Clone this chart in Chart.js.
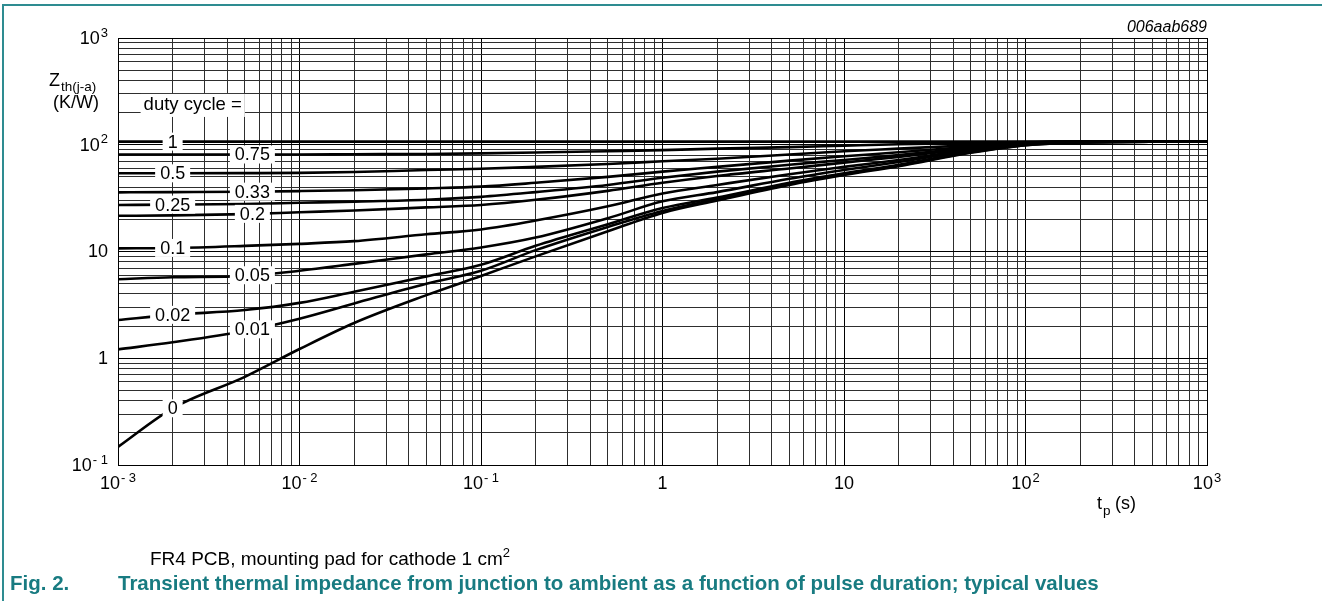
<!DOCTYPE html>
<html>
<head>
<meta charset="utf-8">
<script src="https://cdn.jsdelivr.net/npm/chart.js@4.4.1/dist/chart.umd.min.js"></script>
<style>
  html, body { margin: 0; padding: 0; background: #fff; }
  #wrap { position: relative; width: 1322px; height: 601px; overflow: hidden; }
  #chart { position: absolute; left: 0; top: 0; }
  .rule-top { position: absolute; left: 2px; top: 4px; width: 1320px; height: 2px; background: #2e8c91; }
  .rule-left { position: absolute; left: 2px; top: 4px; width: 2px; height: 597px; background: #2e8c91; }
  .note { position: absolute; left: 150px; top: 548px; font: 19px/22px "Liberation Sans", Arial, sans-serif; color: #000; white-space: nowrap; }
  .note sup { font-size: 13px; line-height: 0; position: relative; top: -1px; }
  .fig { position: absolute; left: 10px; top: 571px; font: bold 20.5px/24px "Liberation Sans", Arial, sans-serif; color: #187b81; white-space: nowrap; }
  .fig span { display: inline-block; width: 108px; }
</style>
</head>
<body>
<div id="wrap">
  <canvas id="chart" width="1322" height="601"></canvas>
  <div class="rule-top"></div>
  <div class="rule-left"></div>
  <div class="note">FR4 PCB, mounting pad for cathode 1 cm<sup>2</sup></div>
  <div class="fig"><span>Fig. 2.</span>Transient thermal impedance from junction to ambient as a function of pulse duration; typical values</div>
</div>
<script>
// pulse duration (s)
var tValues = [0.001, 0.002, 0.005, 0.01, 0.02, 0.05, 0.1, 0.2, 0.5, 1, 2, 5, 10, 20, 50, 100, 200, 500, 1000];

// Zth(j-a) in K/W, one list per duty cycle
var zDuty1    = [107, 107, 107, 107, 107, 107, 107, 107, 107, 107, 107, 107, 107, 107, 107, 107, 107, 107, 107];
var zDuty075  = [81, 81, 81, 81, 81.5, 82, 83, 84.5, 87, 89, 92, 95, 98, 101, 104, 106, 107, 107, 107];
var zDuty05   = [54, 54, 54.2, 54.5, 55.5, 58, 59.5, 62, 66, 70, 74, 81, 87, 92, 99, 105, 107, 107, 107];
var zDuty033  = [35.8, 36, 36.3, 36.8, 37.5, 39, 40.5, 44, 50, 56, 62, 71, 78, 85, 96, 104, 107, 107, 107];
var zDuty025  = [27.3, 27.5, 27.9, 28.6, 29.3, 30.5, 32.5, 36, 42, 49, 56, 65, 72, 80, 94, 104, 107, 107, 107];
var zDuty02   = [21.6, 21.8, 22.4, 23.3, 24.2, 25.9, 27.3, 30.5, 37, 44, 51, 60, 68, 77, 92, 103, 106, 107, 107];
var zDuty01   = [10.7, 10.8, 11.3, 11.8, 12.5, 14.5, 16.1, 19.5, 26.5, 35, 42, 53, 62, 72, 90, 102, 106, 107, 107];
var zDuty005  = [5.5, 5.73, 5.9, 6.6, 7.66, 9.4, 10.9, 13.5, 20.5, 29.5, 36, 48, 58, 69, 88, 101, 106, 107, 107];
var zDuty002  = [2.28, 2.55, 2.83, 3.3, 4.2, 5.85, 7.5, 11.3, 18, 25.5, 32, 44, 54, 65, 86, 100, 105, 107, 107];
var zDuty001  = [1.21, 1.41, 1.8, 2.35, 3.26, 5.0, 6.6, 10.3, 17, 24, 31, 43, 53, 64, 85, 99, 105, 107, 107];
var zDuty0    = [0.148, 0.34, 0.67, 1.22, 2.14, 3.9, 5.9, 9.0, 15.5, 23, 30, 42, 52, 63, 84, 99, 105, 107, 107];

// curve labels and the pulse duration where each one sits
var dutyNames  = ["1", "0.75", "0.5", "0.33", "0.25", "0.2", "0.1", "0.05", "0.02", "0.01", "0"];
var dutySeries = [zDuty1, zDuty075, zDuty05, zDuty033, zDuty025, zDuty02, zDuty01, zDuty005, zDuty002, zDuty001, zDuty0];
var labelAtT   = [0.002, 0.0055, 0.002, 0.0055, 0.002, 0.0055, 0.002, 0.0055, 0.002, 0.0055, 0.002];

// axis ticks
var xTickValues = [0.001, 0.01, 0.1, 1, 10, 100, 1000];
var xTickBase   = ["10", "10", "10", "1", "10", "10", "10"];
var xTickExp    = ["- 3", "- 2", "- 1", "", "", "2", "3"];
var yTickValues = [0.1, 1, 10, 100, 1000];
var yTickBase   = ["10", "1", "10", "10", "10"];
var yTickExp    = ["- 1", "", "", "2", "3"];

var FONT = '"Liberation Sans", Arial, sans-serif';

function logTicks(min, max)
{
    var out = [];
    for (var e = Math.log10(min); e < Math.log10(max); e++)
    {
        for (var m = 1; m <= 9; m++)
        {
            out.push({value: m * Math.pow(10, e)});
        }
    }
    out.push({value: max});
    return out;
}

function isDecade(v)
{
    var l = Math.log10(v);
    return Math.abs(l - Math.round(l)) < 1e-6;
}

// value of a series at t, interpolated in log-log space (used for label placement)
function valueAt(series, t)
{
    for (var i = 0; i < tValues.length - 1; i++)
    {
        if (t >= tValues[i] && t <= tValues[i + 1])
        {
            var f = (Math.log10(t) - Math.log10(tValues[i])) / (Math.log10(tValues[i + 1]) - Math.log10(tValues[i]));
            return Math.pow(10, Math.log10(series[i]) + f * (Math.log10(series[i + 1]) - Math.log10(series[i])));
        }
    }
    return series[series.length - 1];
}

function drawPower(ctx, x, y, base, exp, align)
{
    ctx.font = "18px " + FONT;
    var wb = ctx.measureText(base).width;
    ctx.font = "13px " + FONT;
    var we = exp ? ctx.measureText(exp).width + 1 : 0;
    var x0 = align === "right" ? x - wb - we : x - (wb + we) / 2;
    ctx.textAlign = "left";
    ctx.textBaseline = "middle";
    ctx.font = "18px " + FONT;
    ctx.fillText(base, x0, y);
    if (exp)
    {
        ctx.font = "13px " + FONT;
        ctx.fillText(exp, x0 + wb + 1, y - 6);
    }
}

var annotations = {
    id: "annotations",
    afterDatasetsDraw: function (chart)
    {
        var ctx = chart.ctx;
        var xs = chart.scales.x;
        var ys = chart.scales.y;
        ctx.save();
        ctx.fillStyle = "#000";

        // curve labels on white boxes
        ctx.font = "18px " + FONT;
        for (var i = 0; i < dutyNames.length; i++)
        {
            var px = xs.getPixelForValue(labelAtT[i]);
            var py = ys.getPixelForValue(valueAt(dutySeries[i], labelAtT[i]));
            var w = ctx.measureText(dutyNames[i]).width + 10;
            ctx.fillStyle = "#fff";
            ctx.fillRect(px - w / 2, py - 9, w, 18);
            ctx.fillStyle = "#000";
            ctx.textAlign = "center";
            ctx.textBaseline = "middle";
            ctx.fillText(dutyNames[i], px, py + 1);
        }

        // "duty cycle =" heading
        ctx.font = "18.5px " + FONT;
        var hx = xs.getPixelForValue(0.00258);
        var hy = ys.getPixelForValue(236);
        var hw = ctx.measureText("duty cycle =").width + 6;
        ctx.fillStyle = "#fff";
        ctx.fillRect(hx - hw / 2, hy - 11, hw, 23);
        ctx.fillStyle = "#000";
        ctx.textAlign = "center";
        ctx.textBaseline = "middle";
        ctx.fillText("duty cycle =", hx, hy);
        ctx.restore();
    },
    afterDraw: function (chart)
    {
        var ctx = chart.ctx;
        var xs = chart.scales.x;
        var ys = chart.scales.y;
        ctx.save();
        ctx.fillStyle = "#000";

        for (var i = 0; i < xTickValues.length; i++)
        {
            drawPower(ctx, xs.getPixelForValue(xTickValues[i]), ys.bottom + 19, xTickBase[i], xTickExp[i], "center");
        }
        for (var j = 0; j < yTickValues.length; j++)
        {
            drawPower(ctx, xs.left - 10, ys.getPixelForValue(yTickValues[j]) + 1, yTickBase[j], yTickExp[j], "right");
        }

        // y axis title
        ctx.textAlign = "left";
        ctx.textBaseline = "middle";
        ctx.font = "18px " + FONT;
        ctx.fillText("Z", 49, 81);
        ctx.font = "13.5px " + FONT;
        ctx.fillText("th(j-a)", 61, 87);
        ctx.font = "18px " + FONT;
        ctx.textAlign = "center";
        ctx.fillText("(K/W)", 76, 103);

        // x axis title
        ctx.textAlign = "left";
        ctx.fillText("t", 1097, 504);
        ctx.font = "13.5px " + FONT;
        ctx.fillText("p", 1103, 511);
        ctx.font = "18px " + FONT;
        ctx.fillText("(s)", 1115, 504);

        // figure code
        ctx.font = "italic 16px " + FONT;
        ctx.textAlign = "right";
        ctx.fillText("006aab689", xs.right, 28);
        ctx.restore();
    }
};

var datasets = [];
for (var k = 0; k < dutySeries.length; k++)
{
    datasets.push({
        label:       dutyNames[k],
        data:        tValues.map(function (t, idx) { return {x: t, y: dutySeries[k][idx]}; }),
        borderColor: "#000",
        borderWidth: 2.6,
        pointRadius: 0,
        fill:        false,
        cubicInterpolationMode: "monotone"
    });
}

function gridColor(c)
{
    return c.tick && isDecade(c.tick.value) ? "#000" : "#2e2e2e";
}

new Chart(document.getElementById("chart"), {
    type:    "line",
    data:    {datasets: datasets},
    plugins: [annotations],
    options: {
        responsive:       false,
        animation:        false,
        devicePixelRatio: 1,
        layout:  {padding: {left: 118, top: 38, right: 115, bottom: 136}},
        plugins: {legend: {display: false}, tooltip: {enabled: false}},
        scales:  {
            x: {
                type: "logarithmic",
                min:  0.001,
                max:  1000,
                afterBuildTicks: function (s) { s.ticks = logTicks(0.001, 1000); },
                ticks:  {display: false, autoSkip: false},
                grid:   {color: gridColor, lineWidth: 1, drawTicks: false},
                border: {display: true, color: "#000", width: 1}
            },
            y: {
                type: "logarithmic",
                min:  0.1,
                max:  1000,
                afterBuildTicks: function (s) { s.ticks = logTicks(0.1, 1000); },
                ticks:  {display: false, autoSkip: false},
                grid:   {color: gridColor, lineWidth: 1, drawTicks: false},
                border: {display: true, color: "#000", width: 1}
            }
        }
    }
});
</script>
</body>
</html>
